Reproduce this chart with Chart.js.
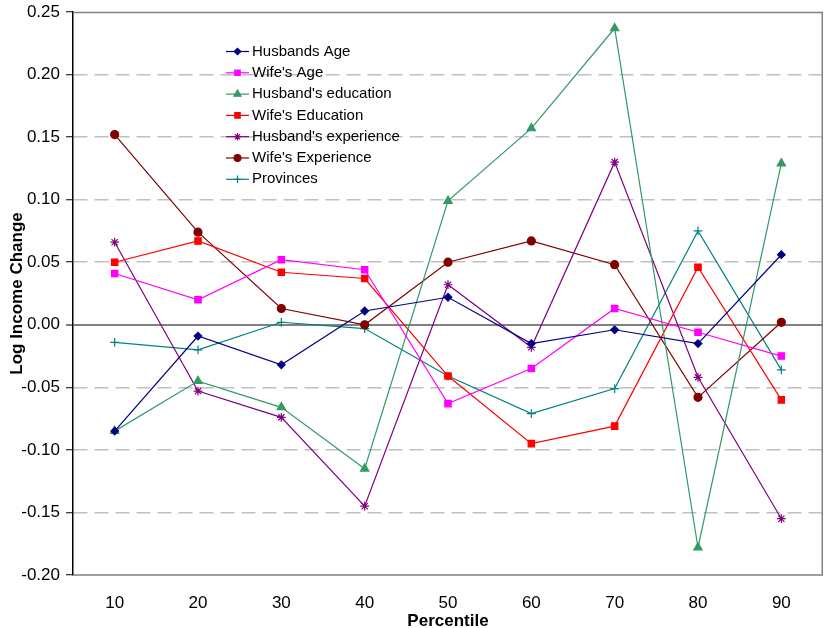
<!DOCTYPE html>
<html>
<head>
<meta charset="utf-8">
<script src="https://cdn.jsdelivr.net/npm/chart.js@4.4.1/dist/chart.umd.min.js"></script>
<style>
  html, body { margin: 0; padding: 0; background: #fff; }
  #wrap { width: 824px; height: 628px; position: relative; }
</style>
</head>
<body>
<div id="wrap"><canvas id="c" width="824" height="628"></canvas></div>
<script>
// Percentile categories
const percentiles = ['10', '20', '30', '40', '50', '60', '70', '80', '90'];

// Log income change per factor
const husbandsAge       = [-0.085, -0.009, -0.032, 0.011, 0.022, -0.015, -0.004, -0.015, 0.056];
const wifesAge          = [0.041, 0.020, 0.052, 0.044, -0.063, -0.035, 0.013, -0.006, -0.025];
const husbandsEducation = [-0.085, -0.045, -0.066, -0.115, 0.099, 0.157, 0.237, -0.178, 0.129];
const wifesEducation    = [0.050, 0.067, 0.042, 0.037, -0.041, -0.095, -0.081, 0.046, -0.060];
const husbandsExperience= [0.066, -0.053, -0.074, -0.145, 0.032, -0.018, 0.130, -0.042, -0.155];
const wifesExperience   = [0.152, 0.074, 0.013, 0.000, 0.050, 0.067, 0.048, -0.058, 0.002];
const provinces         = [-0.014, -0.020, 0.002, -0.003, -0.041, -0.071, -0.051, 0.075, -0.036];

const seriesNames = ['Husbands Age', "Wife's Age", "Husband's education", "Wife's Education",
                     "Husband's experience", "Wife's Experience", 'Provinces'];

// Axis range and step
const yMin = -0.20, yMax = 0.25, yStep = 0.05;

const FONT = '"Liberation Sans", Arial, sans-serif';

function series(label, data, color, style, radius) {
  return {
    label, data,
    borderColor: color, backgroundColor: color,
    borderWidth: 1.2,
    pointStyle: style, pointRadius: radius, pointHoverRadius: radius,
    pointBorderColor: color, pointBackgroundColor: color, pointBorderWidth: 1.2,
    tension: 0, fill: false
  };
}

const datasets = [
  series(seriesNames[0], husbandsAge,        '#000080', 'rectRot',  3.8),
  series(seriesNames[1], wifesAge,           '#FF00FF', 'rect',     4.5),
  series(seriesNames[2], husbandsEducation,  '#339966', 'triangle', 4.8),
  series(seriesNames[3], wifesEducation,     '#FF0000', 'rect',     4.5),
  series(seriesNames[4], husbandsExperience, '#800080', 'star',     4.4),
  series(seriesNames[5], wifesExperience,    '#800000', 'circle',   4.0),
  series(seriesNames[6], provinces,          '#008080', 'cross',    4.4)
];

// Frame on the top, right and bottom of the plot area
const frame = {
  id: 'frame',
  beforeDatasetsDraw(chart) {
    const { ctx, chartArea: a } = chart;
    ctx.save();
    ctx.strokeStyle = '#808080';
    ctx.lineWidth = 1.5;
    ctx.beginPath();
    ctx.moveTo(a.left, a.top + 0.5);
    ctx.lineTo(a.right - 0.75, a.top + 0.5);
    ctx.lineTo(a.right - 0.75, a.bottom);
    ctx.lineTo(a.left, a.bottom);
    ctx.stroke();
    ctx.restore();
  }
};

// Legend drawn inside the plot area: short line plus marker, then the name
const innerLegend = {
  id: 'innerLegend',
  afterDatasetsDraw(chart) {
    const { ctx } = chart;
    const x0 = 226, x1 = 249, y0 = 51.5, dy = 21.3;
    ctx.save();
    chart.data.datasets.forEach((ds, i) => {
      const y = y0 + i * dy;
      ctx.strokeStyle = ds.borderColor;
      ctx.lineWidth = 1.2;
      ctx.beginPath();
      ctx.moveTo(x0, y);
      ctx.lineTo(x1, y);
      ctx.stroke();
      ctx.fillStyle = ds.borderColor;
      Chart.helpers.drawPoint(ctx, {
        pointStyle: ds.pointStyle, radius: ds.pointRadius * 0.85,
        rotation: 0, borderWidth: 1.2
      }, (x0 + x1) / 2, y);
      ctx.fillStyle = '#000';
      ctx.font = '15px ' + FONT;
      ctx.textBaseline = 'middle';
      ctx.textAlign = 'left';
      ctx.fillText(ds.label, 252, y);
    });
    ctx.restore();
  }
};

// Fixed axis box sizes so the plot area sits where it should
function fixBox(size, horizontal) {
  return scale => {
    if (horizontal) scale.height = size; else scale.width = size;
    scale.paddingLeft = scale.paddingRight = scale.paddingTop = scale.paddingBottom = 0;
  };
}

new Chart(document.getElementById('c'), {
  type: 'line',
  data: { labels: percentiles, datasets },
  plugins: [frame, innerLegend],
  options: {
    responsive: false,
    animation: false,
    devicePixelRatio: 1,
    layout: { autoPadding: false, padding: { top: 12, right: 1, left: 0, bottom: 0 } },
    plugins: { legend: { display: false }, tooltip: { enabled: false } },
    scales: {
      x: {
        type: 'category',
        offset: true,
        afterFit: fixBox(53, true),
        grid: { display: false, drawTicks: false },
        border: { display: false },
        ticks: { color: '#000', font: { family: FONT, size: 17 }, padding: 18, maxRotation: 0 },
        title: { display: true, text: 'Percentile', color: '#000',
                 font: { family: FONT, size: 17, weight: 'bold', lineHeight: 0.8 },
                 padding: { top: 0, bottom: 0 } }
      },
      y: {
        min: yMin, max: yMax,
        afterFit: fixBox(73, false),
        ticks: {
          stepSize: yStep, color: '#000', padding: 6,
          font: { family: FONT, size: 17 },
          callback: v => Number(v).toFixed(2)
        },
        grid: {
          drawTicks: true, tickLength: 7, tickColor: '#000', tickWidth: 1,
          color: c => (c.tick && Math.abs(c.tick.value) < 1e-9) ? '#808080'
                    : (c.tick && (Math.abs(c.tick.value - yMax) < 1e-9 || Math.abs(c.tick.value - yMin) < 1e-9)) ? 'rgba(0,0,0,0)'
                    : '#c0c0c0',
          lineWidth: c => (c.tick && Math.abs(c.tick.value) < 1e-9) ? 2 : 1.5
        },
        border: {
          display: true, color: '#000', width: 1.5,
          dash: c => (c.tick && Math.abs(c.tick.value) > 1e-9) ? [14, 7] : []
        },
        title: { display: true, text: 'Log Income Change', color: '#000',
                 font: { family: FONT, size: 17, weight: 'bold' }, padding: { top: 7.5, bottom: 0 } }
      }
    }
  }
});
</script>
</body>
</html>
